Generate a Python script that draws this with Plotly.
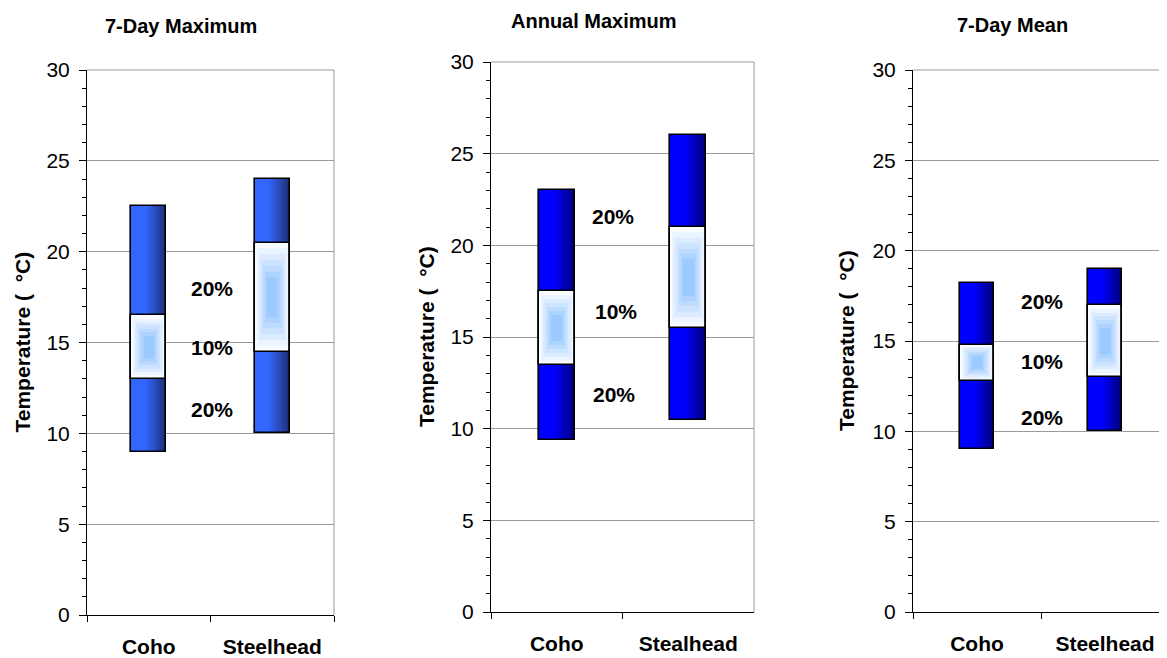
import plotly.graph_objects as go

# ---------------- data ----------------
panel_titles = ["7-Day Maximum", "Annual Maximum", "7-Day Mean"]
y_title = "Temperature (\u00a0 \u00b0C)"

categories_7day_max = ["Coho", "Steelhead"]
categories_annual_max = ["Coho", "Stealhead"]
categories_7day_mean = ["Coho", "Steelhead"]

# lower limit, lower edge of optimal band, upper edge of optimal band, upper limit (deg C)
low_7day_max = [9.0, 10.0]
band_low_7day_max = [13.0, 14.5]
band_high_7day_max = [16.5, 20.5]
high_7day_max = [22.5, 24.0]

low_annual_max = [9.4, 10.5]
band_low_annual_max = [13.5, 15.5]
band_high_annual_max = [17.5, 21.0]
high_annual_max = [23.0, 26.0]

low_7day_mean = [9.0, 10.0]
band_low_7day_mean = [12.8, 13.0]
band_high_7day_mean = [14.8, 17.0]
high_7day_mean = [18.2, 19.0]

pct_labels = ["20%", "10%", "20%"]
y_tick_values = [0, 5, 10, 15, 20, 25, 30]

# ---------------- layout / style ----------------
W, H = 1167, 658
OFF = 8  # page margin of the html body
FONT = "Arial, Liberation Sans, sans-serif"
FS = 21

panels = [
    dict(cats=categories_7day_max, low=low_7day_max, blo=band_low_7day_max,
         bhi=band_high_7day_max, high=high_7day_max,
         xpx=(87, 334), ypx=(70, 615), barw=0.283,
         c_left="#3366ff", c_right="#1c2d72",
         label_x=[0.515, 0.515, 0.515], label_y=[18.0, 14.7, 11.3],
         title_xy=(181, 26), ytitle_x=22),
    dict(cats=categories_annual_max, low=low_annual_max, blo=band_low_annual_max,
         bhi=band_high_annual_max, high=high_annual_max,
         xpx=(491, 754), ypx=(62, 612), barw=0.274,
         c_left="#0000ff", c_right="#000077",
         label_x=[0.427, 0.452, 0.437], label_y=[21.6, 16.4, 11.85],
         title_xy=(594, 21), ytitle_x=426),
    dict(cats=categories_7day_mean, low=low_7day_mean, blo=band_low_7day_mean,
         bhi=band_high_7day_mean, high=high_7day_mean,
         xpx=(913, 1169), ypx=(70, 612), barw=0.266,
         c_left="#0000ff", c_right="#000077",
         label_x=[0.51, 0.51, 0.51], label_y=[17.16, 13.88, 10.76],
         title_xy=(1012, 25), ytitle_x=847),
]


def px_x(v):
    return (v - OFF) / W


def px_y(v):
    return 1 - (v - OFF) / H


def hex2rgb(h):
    h = h.lstrip("#")
    return tuple(int(h[i:i + 2], 16) for i in (0, 2, 4))


def mix(c1, c2, t):
    a, b = hex2rgb(c1), hex2rgb(c2)
    return "rgb(%d,%d,%d)" % tuple(round(a[i] + (b[i] - a[i]) * t) for i in range(3))


def outer_color(p, t):
    if t < 0.4:
        return p["c_left"]
    return mix(p["c_left"], p["c_right"], (t - 0.4) / 0.6)


N_STRIPS = 18
inner_colors = ["#f8fbff", "#ebf4ff", "#dcebff", "#cde3ff", "#bddbff", "#acd3ff", "#9bcaff"]
K = len(inner_colors)

fig = go.Figure()
layout_axes = {}
annotations = []
shapes = []

for i, p in enumerate(panels):
    sfx = "" if i == 0 else str(i + 1)
    xa, ya = "x" + sfx, "y" + sfx
    cats = p["cats"]
    w = p["barw"]
    heights = [h - l for h, l in zip(p["high"], p["low"])]

    # gradient-filled full bars (vertical strips)
    sw = w / N_STRIPS
    for s in range(N_STRIPS):
        t = (s + 0.5) / N_STRIPS
        width_s = sw * (1.6 if s < N_STRIPS - 1 else 1.0)
        fig.add_trace(go.Bar(
            x=cats, y=heights, base=p["low"], width=[width_s] * 2,
            offset=[-w / 2 + s * sw] * 2, marker=dict(color=outer_color(p, t), line=dict(width=0)),
            xaxis=xa, yaxis=ya, hoverinfo="skip", showlegend=False))

    # optimal band: nested boxes, white edge to light-blue centre
    band_h = [b - a for a, b in zip(p["blo"], p["bhi"])]
    mids = [(a + b) / 2 for a, b in zip(p["blo"], p["bhi"])]
    for k in range(K):
        fw = 1 - k * (1 - 0.30) / (K - 1)
        fh = 1 - k * (1 - 0.36) / (K - 1)
        hk = [bh * fh for bh in band_h]
        if k == 0:
            fw, hk = 1.0, band_h
        bk = [m - h / 2 for m, h in zip(mids, hk)]
        fig.add_trace(go.Bar(
            x=cats, y=hk, base=bk, width=[w * fw] * 2, offset=[-w * fw / 2] * 2,
            marker=dict(color=inner_colors[k], line=dict(width=0)),
            xaxis=xa, yaxis=ya, hoverinfo="skip", showlegend=False))

    # outlines
    fig.add_trace(go.Bar(
        x=cats + cats, y=heights + band_h, base=p["low"] + p["blo"],
        width=[w] * 4, offset=[-w / 2] * 4,
        marker=dict(color="rgba(0,0,0,0)", line=dict(color="black", width=1.6)),
        xaxis=xa, yaxis=ya, hoverinfo="skip", showlegend=False))

    # axes
    x0, x1 = p["xpx"]
    ytop, ybot = p["ypx"]
    layout_axes["xaxis" + sfx] = dict(
        domain=[px_x(x0), min(1.0, px_x(x1))], anchor=ya, type="category",
        range=[-0.5, 1.5], tickson="boundaries", ticks="outside", ticklen=6,
        tickcolor="black", showline=True, linecolor="black", linewidth=1,
        showgrid=False, zeroline=False, ticklabelstandoff=13, automargin=False,
        tickfont=dict(family=FONT, size=FS, color="black", weight="bold"),
        categoryarray=cats, categoryorder="array", fixedrange=True)
    layout_axes["yaxis" + sfx] = dict(
        domain=[px_y(ybot), px_y(ytop)], anchor=xa, range=[0, 30],
        tickvals=y_tick_values, ticks="outside", ticklen=7, tickcolor="black",
        showline=True, linecolor="black", linewidth=1, showgrid=True,
        gridcolor="#9a9a9a", gridwidth=1, zeroline=False, ticklabelstandoff=5,
        automargin=False,
        tickfont=dict(family=FONT, size=FS, color="black"),
        minor=dict(tickvals=[v for v in range(31) if v % 5], ticks="outside",
                   ticklen=4, tickcolor="black", showgrid=False),
        fixedrange=True)

    # plot-area border (top, right)
    shapes.append(dict(type="line", xref=xa + " domain", yref=ya + " domain",
                       x0=0, x1=1, y0=1, y1=1, line=dict(color="#9a9a9a", width=1)))
    shapes.append(dict(type="line", xref=xa + " domain", yref=ya + " domain",
                       x0=1, x1=1, y0=0, y1=1, line=dict(color="#9a9a9a", width=1)))

    # percent labels
    for txt, lx, ly in zip(pct_labels, p["label_x"], p["label_y"]):
        annotations.append(dict(x=lx, y=ly, xref=xa, yref=ya, text="<b>%s</b>" % txt,
                                showarrow=False, xanchor="center", yanchor="middle",
                                font=dict(family=FONT, size=FS, color="black")))

    # panel title
    tx, ty = p["title_xy"]
    annotations.append(dict(x=px_x(tx), y=px_y(ty), xref="paper", yref="paper",
                            text="<b>%s</b>" % panel_titles[i], showarrow=False,
                            xanchor="center", yanchor="middle",
                            font=dict(family=FONT, size=FS - 1, color="black")))
    # y-axis title
    annotations.append(dict(x=px_x(p["ytitle_x"]), y=px_y((ytop + ybot) / 2),
                            xref="paper", yref="paper", text="<b>%s</b>" % y_title,
                            textangle=-90, showarrow=False, xanchor="center",
                            yanchor="middle",
                            font=dict(family=FONT, size=FS, color="black")))

fig.update_layout(
    width=W, height=H, margin=dict(l=0, r=0, t=0, b=0, autoexpand=False),
    paper_bgcolor="white", plot_bgcolor="white", barmode="overlay",
    bargap=0, showlegend=False, annotations=annotations, shapes=shapes,
    font=dict(family=FONT, color="black"), **layout_axes)

fig.write_html("out.html")
